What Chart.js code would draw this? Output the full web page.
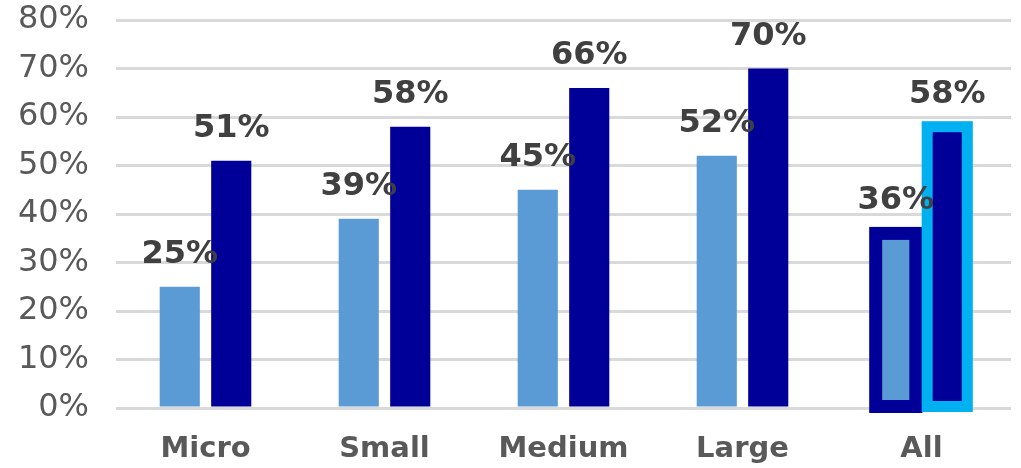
<!DOCTYPE html>
<html>
<head>
<meta charset="utf-8">
<script src="https://cdn.jsdelivr.net/npm/chart.js@4/dist/chart.umd.min.js"></script>
<style>
  html, body { margin: 0; padding: 0; background: #fff; }
  #wrap { width: 1021px; height: 468px; }
</style>
</head>
<body>
<div id="wrap"><canvas id="barChart"></canvas></div>
<script>
const categories = ['Micro', 'Small', 'Medium', 'Large', 'All'];
const lightValues = [25, 39, 45, 52, 36];
const darkValues = [51, 58, 66, 70, 58];
const yMax = 80;
const yStep = 10;

// thick outline around the "All" bars, centered on the bar edge
const outlinePlugin = {
  id: 'allOutline',
  afterDatasetsDraw(chart) {
    const ctx = chart.ctx;
    const last = categories.length - 1;
    const styles = [
      { color: '#000099', width: 13 },
      { color: '#00B0F0', width: 11 }
    ];
    chart.data.datasets.forEach((ds, i) => {
      const bar = chart.getDatasetMeta(i).data[last];
      const p = bar.getProps(['x', 'y', 'base', 'width'], true);
      ctx.save();
      ctx.strokeStyle = styles[i].color;
      ctx.lineWidth = styles[i].width;
      ctx.strokeRect(p.x - p.width / 2, p.y, p.width, p.base - p.y);
      ctx.restore();
    });
  }
};

// value labels above each bar
const labelPlugin = {
  id: 'valueLabels',
  afterDatasetsDraw(chart) {
    const ctx = chart.ctx;
    ctx.save();
    ctx.font = 'bold 32px "DejaVu Sans"';
    ctx.fillStyle = '#404040';
    ctx.textAlign = 'center';
    ctx.textBaseline = 'alphabetic';
    chart.data.datasets.forEach((ds, i) => {
      chart.getDatasetMeta(i).data.forEach((bar, j) => {
        ctx.fillText(ds.data[j] + '%', bar.x, bar.y - 24);
      });
    });
    ctx.restore();
  }
};

new Chart(document.getElementById('barChart'), {
  type: 'bar',
  data: {
    labels: categories,
    datasets: [
      { data: lightValues, backgroundColor: '#5B9BD5' },
      { data: darkValues, backgroundColor: '#000099' }
    ]
  },
  options: {
    responsive: true,
    maintainAspectRatio: false,
    animation: false,
    layout: { padding: { top: 20, right: 10, bottom: 0, left: 0 } },
    datasets: {
      bar: { barPercentage: 0.78, categoryPercentage: 0.575 }
    },
    plugins: {
      legend: { display: false },
      tooltip: { enabled: false }
    },
    scales: {
      x: {
        grid: { display: false },
        border: { display: false },
        ticks: {
          color: '#595959',
          font: { family: 'DejaVu Sans', size: 29, weight: 'bold' },
          padding: 16
        },
        afterFit(s) { s.height = 60; }
      },
      y: {
        min: 0,
        max: yMax,
        grid: { color: '#D9D9D9', lineWidth: 3, drawTicks: true, tickLength: 27, tickColor: 'rgba(0,0,0,0)' },
        border: { display: false },
        ticks: {
          stepSize: yStep,
          color: '#595959',
          font: { family: 'DejaVu Sans', size: 32 },
          padding: 0,
          callback: v => v + '%'
        },
        afterFit(s) { s.width = 116; }
      }
    }
  },
  plugins: [outlinePlugin, labelPlugin]
});
</script>
</body>
</html>
